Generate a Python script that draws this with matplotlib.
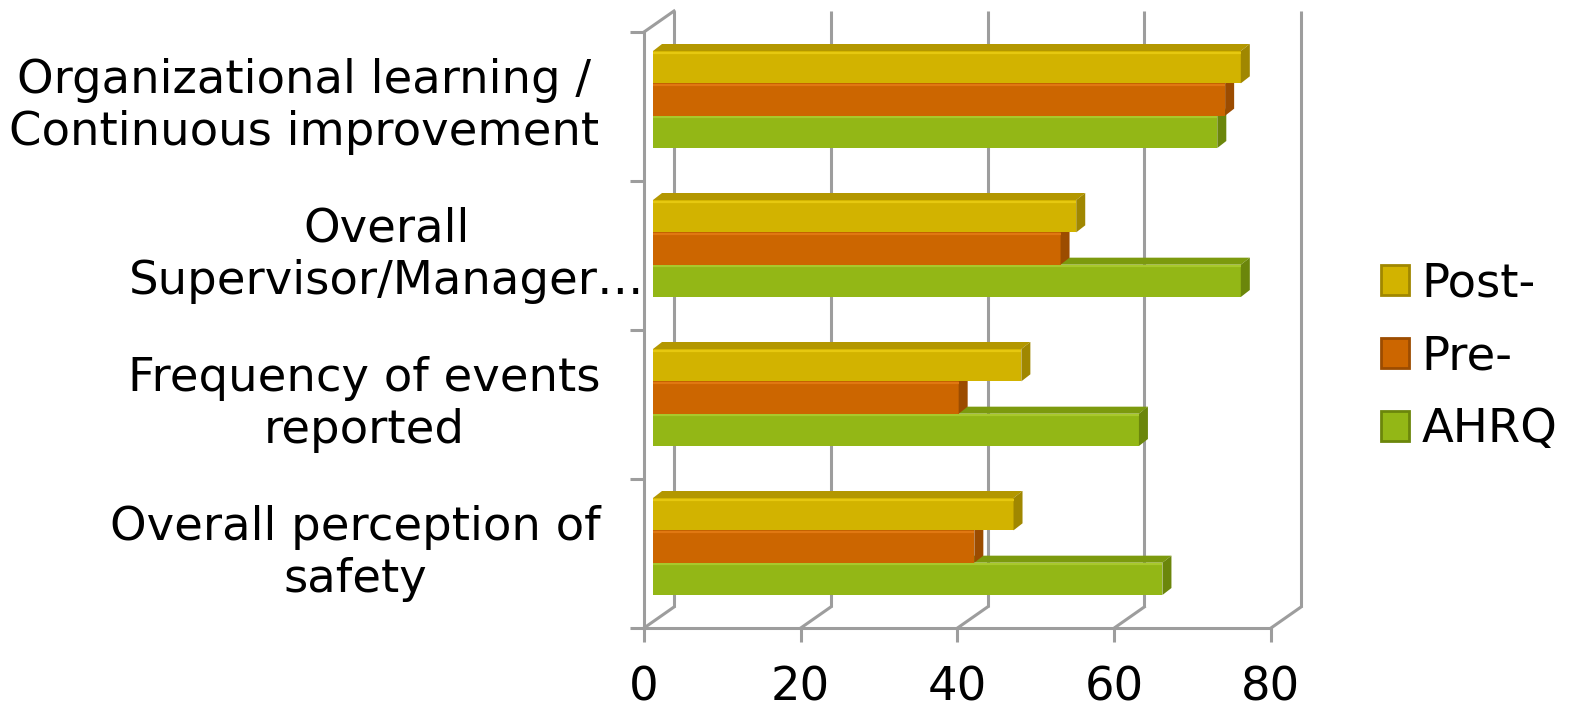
import matplotlib
matplotlib.use("Agg")
import matplotlib.pyplot as plt
from matplotlib.patches import Polygon, Patch
from matplotlib.transforms import offset_copy, blended_transform_factory

# categories listed bottom to top
categories = [
    "Overall perception of\nsafety",
    "Frequency of events\nreported",
    "Overall\nSupervisor/Manager…",
    "Organizational learning /\nContinuous improvement",
]
post_values = [46, 47, 54, 75]
pre_values = [41, 39, 52, 73]
ahrq_values = [65, 62, 75, 72]
x_ticks = [0, 20, 40, 60, 80]
series_names = ["Post-", "Pre-", "AHRQ"]

# front, top, side, highlight colours per series
palette = {
    "Post-": ("#d2b300", "#b39700", "#a08700", "#e6c810"),
    "Pre-": ("#cc6600", "#ad5500", "#9c4c00", "#e07812"),
    "AHRQ": ("#93b716", "#7c9a0e", "#6b860b", "#a8c92c"),
}
GRID = "#9d9d9d"
FONT = 33.5

W, H, dpi = 1579, 709, 100
fig = plt.figure(figsize=(W / dpi, H / dpi), dpi=dpi)
fig.patch.set_facecolor("white")

# front plane of the 3D box, in pixels
left_px, right_px, top_px, bottom_px = 644, 1271, 32, 628
ax = fig.add_axes([left_px / W, 1 - bottom_px / H,
                   (right_px - left_px) / W, (bottom_px - top_px) / H])
ax.set_xlim(0, 80)
ax.set_ylim(-0.5, len(categories) - 0.5)
ax.set_facecolor("none")

ppx = (right_px - left_px) / 80.0
ppy = (bottom_px - top_px) / float(len(categories))

# back wall offset and bar depth, converted to data units
wall_dx, wall_dy = 30 / ppx, 21 / ppy
bar_dx, bar_dy = 9 / ppx, 7 / ppy

y0, y1 = -0.5, len(categories) - 0.5

# back wall gridlines and floor diagonals
for xv in x_ticks:
    ax.plot([xv + wall_dx, xv + wall_dx], [y0 + wall_dy, y1 + wall_dy],
            color=GRID, lw=2.2, zorder=1, clip_on=False, solid_capstyle="butt")
    ax.plot([xv, xv + wall_dx], [y0, y0 + wall_dy],
            color=GRID, lw=2.2, zorder=1, clip_on=False)
# top-left diagonal of the side wall
ax.plot([0, wall_dx], [y1, y1 + wall_dy], color=GRID, lw=2.2, zorder=1, clip_on=False)

# bars sit a bit behind the front plane
bar_tr = offset_copy(ax.transData, fig=fig, x=9, y=7, units="dots")

bar_h = 0.217
series = [("AHRQ", ahrq_values, -bar_h), ("Pre-", pre_values, 0.0), ("Post-", post_values, bar_h)]

for ci in range(len(categories)):
    for name, vals, off in series:
        front, topc, side, hi = palette[name]
        v = vals[ci]
        yc = ci + off
        yb, yt = yc - bar_h / 2, yc + bar_h / 2
        ax.barh(yc, v, height=bar_h, color=front, edgecolor="none",
                transform=bar_tr, zorder=3, clip_on=False)
        top_face = Polygon([(0, yt), (v, yt), (v + bar_dx, yt + bar_dy), (bar_dx, yt + bar_dy)],
                           closed=True, facecolor=topc, edgecolor="none",
                           transform=bar_tr, zorder=3, clip_on=False)
        side_face = Polygon([(v, yb), (v, yt), (v + bar_dx, yt + bar_dy), (v + bar_dx, yb + bar_dy)],
                            closed=True, facecolor=side, edgecolor="none",
                            transform=bar_tr, zorder=3, clip_on=False)
        ax.add_patch(top_face)
        ax.add_patch(side_face)
        # soft highlight along the upper edge of the front face
        ax.plot([0, v], [yt - 0.012, yt - 0.012], color=hi, lw=1.6,
                transform=bar_tr, zorder=3, clip_on=False, solid_capstyle="butt")

# axes frame: left and bottom spines are the front edges
for s in ["top", "right"]:
    ax.spines[s].set_visible(False)
for s in ["left", "bottom"]:
    ax.spines[s].set_color(GRID)
    ax.spines[s].set_linewidth(2.2)
    ax.spines[s].set_zorder(2)

ax.set_xticks(x_ticks)
ax.set_xticklabels([str(t) for t in x_ticks])
ax.set_yticks([y0 + i for i in range(len(categories) + 1)])
ax.set_yticklabels([])
ax.tick_params(axis="both", color=GRID, width=2.2, length=10, direction="out")
ax.tick_params(axis="x", labelsize=FONT, pad=17, labelcolor="black")

# category labels, centred lines, right aligned block
label_right_px = [601, 601, 644, 599]
lab_tr = blended_transform_factory(ax.transAxes, ax.transData)
for ci, lab in enumerate(categories):
    xf = (label_right_px[ci] - left_px) / float(right_px - left_px)
    ax.text(xf, ci, lab, transform=lab_tr, ha="right", va="center",
            multialignment="center", fontsize=FONT, color="black")

handles = [Patch(facecolor=palette[n][0], edgecolor=palette[n][2], linewidth=2) for n in series_names]
fig.legend(handles, series_names, loc="center left",
           bbox_to_anchor=(1362 / W, 1 - 357 / H), frameon=False,
           fontsize=FONT, handlelength=0.6, handleheight=0.6,
           handletextpad=0.28, labelspacing=0.6, borderaxespad=0)

fig.savefig("out.png", dpi=dpi, facecolor="white")
plt.close(fig)
